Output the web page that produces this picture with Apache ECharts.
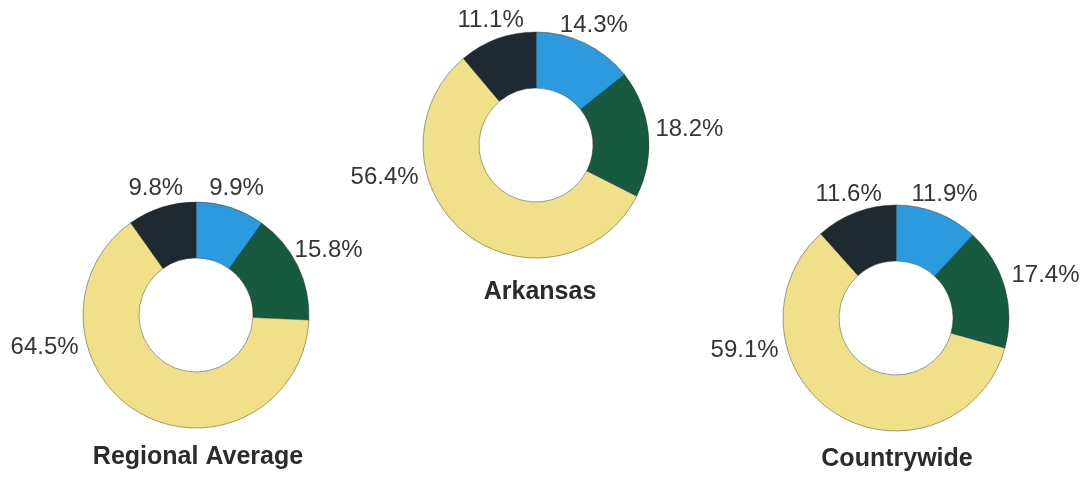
<!DOCTYPE html>
<html>
<head>
<meta charset="utf-8">
<script src="https://cdn.jsdelivr.net/npm/echarts@6/dist/echarts.min.js"></script>
<style>
  html, body { margin: 0; padding: 0; background: #fff; }
  #main { width: 1084px; height: 477px; }
</style>
</head>
<body>
<div id="main"></div>
<script>
// slices go clockwise from 12 o'clock: blue, green, yellow, dark
const categories = ['Segment 1', 'Segment 2', 'Segment 3', 'Segment 4'];
const regionalValues = [9.9, 15.8, 64.5, 9.8];
const arkansasValues = [14.3, 18.2, 56.4, 11.1];
const countrywideValues = [11.9, 17.4, 59.1, 11.6];
const chartTitles = ['Regional Average', 'Arkansas', 'Countrywide'];

const colors = ['#2b9ade', '#185a40', '#f0e08a', '#1e2931'];

// where each donut sits (px) and where its caption goes
const layout = [
  { values: regionalValues, center: [196, 315], titleX: 193, titleTop: 440 },
  { values: arkansasValues, center: [536, 145], titleX: 535, titleTop: 275 },
  { values: countrywideValues, center: [896, 318], titleX: 892, titleTop: 442 }
];
const outerR = 113;
const innerR = 57;
const labelGap = 7;

const chart = echarts.init(document.getElementById('main'));

// put each label just outside the ring on its slice's middle angle;
// labels that would land in the lower half go to the side instead
function makeLabelLayout(values, center) {
  const total = values.reduce((a, b) => a + b, 0);
  return function (params) {
    const i = params.dataIndex;
    let before = 0;
    for (let k = 0; k < i; k++) before += values[k];
    let ang = ((before + values[i] / 2) / total) * 360; // clockwise from top
    if (ang > 100 && ang < 260) ang = ang < 180 ? 100 : 258;
    const rad = ang * Math.PI / 180;
    const sx = Math.sin(rad), cy = Math.cos(rad);
    const hw = params.labelRect.width / 2;
    const hh = params.labelRect.height / 2;
    const push = Math.min(
      Math.abs(sx) > 1e-6 ? hw / Math.abs(sx) : Infinity,
      Math.abs(cy) > 1e-6 ? hh / Math.abs(cy) : Infinity
    );
    const r = outerR + labelGap + push;
    return {
      x: center[0] + r * sx,
      y: center[1] - r * cy,
      align: 'center',
      verticalAlign: 'middle'
    };
  };
}

const option = {
  animation: false,
  color: colors,
  title: layout.map((p, i) => ({
    text: chartTitles[i],
    left: p.titleX,
    top: p.titleTop,
    textAlign: 'center',
    textStyle: {
      fontFamily: 'Liberation Sans, Arial, sans-serif',
      fontSize: 25,
      fontWeight: 'bold',
      color: '#2b2b2b'
    }
  })),
  series: layout.map((p) => ({
    type: 'pie',
    center: p.center,
    radius: [innerR, outerR],
    startAngle: 90,
    clockwise: true,
    avoidLabelOverlap: false,
    silent: true,
    itemStyle: {
      borderColor: 'rgba(50,50,30,0.45)',
      borderWidth: 1
    },
    label: {
      show: true,
      position: 'outside',
      formatter: (d) => d.value.toFixed(1) + '%',
      fontFamily: 'Liberation Sans, Arial, sans-serif',
      fontSize: 24,
      color: '#363636'
    },
    labelLine: { show: false },
    labelLayout: makeLabelLayout(p.values, p.center),
    data: p.values.map((v, k) => ({ name: categories[k], value: v }))
  }))
};

chart.setOption(option);
</script>
</body>
</html>
